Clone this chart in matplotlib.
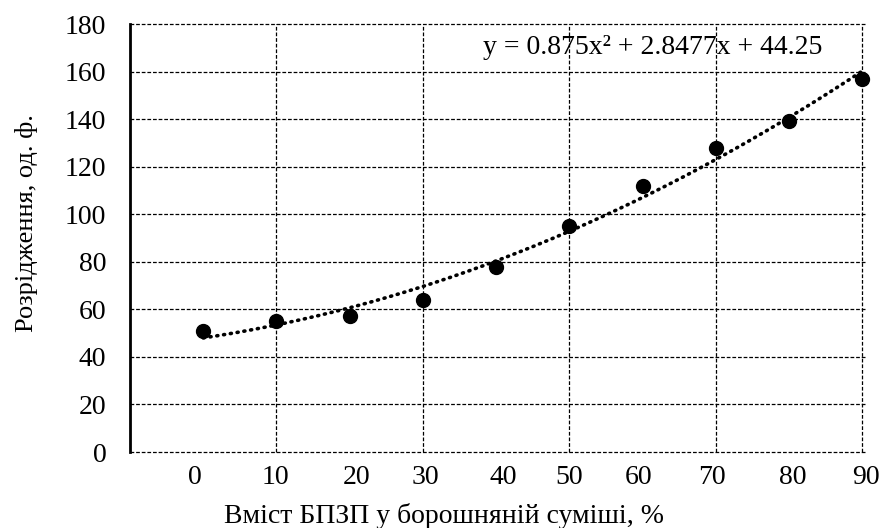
import numpy as np
import matplotlib
matplotlib.use("Agg")
import matplotlib.pyplot as plt

# data
x_pos = [1, 2, 3, 4, 5, 6, 7, 8, 9, 10]
y_vals = [51, 55, 57, 64, 78, 95, 112, 128, 139, 157]
coef = [0.875, 2.8477, 44.25]
x_tick_labels = ["0", "10", "20", "30", "40", "50", "60", "70", "80", "90"]
x_tick_pos = [0.89, 1.98, 3.09, 4.03, 5.1, 6.0, 6.95, 7.95, 9.05, 10.05]
y_ticks = [0, 20, 40, 60, 80, 100, 120, 140, 160, 180]

plt.rcParams['font.family'] = ['Liberation Serif', 'DejaVu Serif']

fig = plt.figure(figsize=(8.88, 5.28), dpi=100)
ax = fig.add_axes([130/888, 1 - 452/528, (866-130)/888, (452-24)/528])

ax.set_xlim(0, 10)
ax.set_ylim(0, 180)

# grid
for gx in [2, 4, 6, 8, 10]:
    ax.axvline(gx, color='black', lw=0.9, ls=(0, (3, 1.5)), zorder=1, clip_on=False)
for gy in y_ticks:
    ax.axhline(gy, color='black', lw=0.9, ls=(0, (3, 1.5)), zorder=1, clip_on=False)

for s in ['top', 'right', 'bottom']:
    ax.spines[s].set_visible(False)
ax.spines['left'].set_linewidth(2.0)
ax.spines['left'].set_zorder(3)

# trendline
xt = np.linspace(1, 10, 200)
yt = np.polyval(coef, xt)
ax.plot(xt, yt, color='black', lw=2.6, ls=(0, (0.3, 1.6)), dash_capstyle='round', zorder=2,
        clip_on=False)

ax.plot(x_pos, y_vals, 'o', color='black', ms=10, zorder=4, clip_on=False)

FS = 20
ax.set_yticks(y_ticks)
ax.set_yticklabels([str(v) for v in y_ticks], fontsize=FS)
ax.set_xticks(x_tick_pos)
ax.set_xticklabels(x_tick_labels, fontsize=FS)
ax.tick_params(axis='both', length=0)
ax.tick_params(axis='y', pad=17)
ax.tick_params(axis='x', pad=9.5)

ax.text(4.82, 170, "y = 0.875x² + 2.8477x + 44.25", fontsize=20, va='center', ha='left', zorder=5)

ax.set_xlabel("Вміст БПЗП у борошняній суміші, %", fontsize=FS)
ax.xaxis.set_label_coords((444 - 130) / 736, (452 - 503) / 428)
ax.set_ylabel("Розрідження, од. ф.", fontsize=19)
ax.yaxis.set_label_coords((38 - 130) / 736, (452 - 223) / 428)

fig.savefig("out.png", dpi=100)
